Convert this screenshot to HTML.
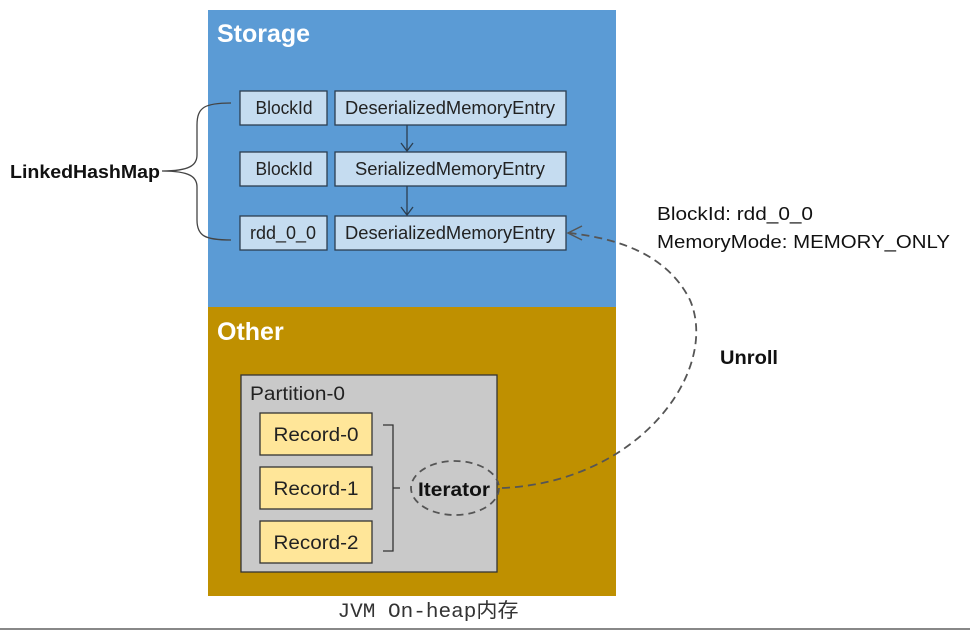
<!DOCTYPE html>
<html><head><meta charset="utf-8"><style>
body{margin:0;background:#fff;width:970px;height:631px;overflow:hidden;font-family:"Liberation Sans","Noto Sans CJK SC",sans-serif}
</style></head><body>
<svg width="970" height="631" xmlns="http://www.w3.org/2000/svg" style="position:absolute;left:0;top:0">
<rect x="208" y="10" width="408" height="297" fill="#5b9bd5"/>
<rect x="208" y="307" width="408" height="289" fill="#bf9000"/>
<text x="217" y="42" font-size="25" font-weight="bold" fill="#fff">Storage</text>
<text x="217" y="340" font-size="25" font-weight="bold" fill="#fff">Other</text>
<g fill="#c5dcf0" stroke="#2c3e50" stroke-width="1.3">
<rect x="240" y="91" width="87" height="34"/><rect x="335" y="91" width="231" height="34"/>
<rect x="240" y="152" width="87" height="34"/><rect x="335" y="152" width="231" height="34"/>
<rect x="240" y="216" width="87" height="34"/><rect x="335" y="216" width="231" height="34"/>
</g>
<g font-size="18" fill="#222" text-anchor="middle">
<text x="284" y="114" textLength="57" lengthAdjust="spacingAndGlyphs">BlockId</text><text x="450" y="114" textLength="210" lengthAdjust="spacingAndGlyphs">DeserializedMemoryEntry</text>
<text x="284" y="175" textLength="57" lengthAdjust="spacingAndGlyphs">BlockId</text><text x="450" y="175" textLength="190" lengthAdjust="spacingAndGlyphs">SerializedMemoryEntry</text>
<text x="283" y="239" textLength="66" lengthAdjust="spacingAndGlyphs">rdd_0_0</text><text x="450" y="239" textLength="210" lengthAdjust="spacingAndGlyphs">DeserializedMemoryEntry</text>
</g>
<g stroke="#2c3e50" stroke-width="1.3" fill="none">
<path d="M407 125V151M401 143L407 151L413 143"/>
<path d="M407 186V215M401 207L407 215L413 207"/>
<path d="M231 103C205 103 197 107 197 125V155C197 165 190 171 162 171C190 171 197 177 197 187V220C197 236 205 240 231 240" stroke="#444"/>
</g>
<text x="10" y="178" font-size="18" font-weight="bold" fill="#111" textLength="150" lengthAdjust="spacingAndGlyphs">LinkedHashMap</text>
<rect x="241" y="375" width="256" height="197" fill="#c9c9c9" stroke="#333" stroke-width="1.3"/>
<text x="250" y="400" font-size="19" fill="#222" textLength="95" lengthAdjust="spacingAndGlyphs">Partition-0</text>
<g fill="#ffe699" stroke="#333" stroke-width="1.3">
<rect x="260" y="413" width="112" height="42"/><rect x="260" y="467" width="112" height="42"/><rect x="260" y="521" width="112" height="42"/>
</g>
<g font-size="19" fill="#222" text-anchor="middle">
<text x="316" y="441" textLength="85" lengthAdjust="spacingAndGlyphs">Record-0</text><text x="316" y="495" textLength="85" lengthAdjust="spacingAndGlyphs">Record-1</text><text x="316" y="549" textLength="85" lengthAdjust="spacingAndGlyphs">Record-2</text>
</g>
<path d="M383 425H393V551H383M393 488H400" stroke="#333" stroke-width="1.3" fill="none"/>
<ellipse cx="455" cy="488" rx="44" ry="27" fill="none" stroke="#555" stroke-width="1.8" stroke-dasharray="7,5"/>
<text x="454" y="496" font-size="19" font-weight="bold" fill="#111" text-anchor="middle" textLength="72" lengthAdjust="spacingAndGlyphs">Iterator</text>
<path d="M502 488C640 482 720 370 690 300C665 250 610 238 570 233" stroke="#555" stroke-width="1.8" fill="none" stroke-dasharray="8,5"/>
<path d="M582 226L568 233L582 240" stroke="#555" stroke-width="1.5" fill="none"/>
<text x="657" y="220" font-size="18" fill="#111" textLength="156" lengthAdjust="spacingAndGlyphs">BlockId:  rdd_0_0</text>
<text x="657" y="248" font-size="18" fill="#111" textLength="293" lengthAdjust="spacingAndGlyphs">MemoryMode:  MEMORY_ONLY</text>
<text x="720" y="364" font-size="19" font-weight="bold" fill="#111" textLength="58" lengthAdjust="spacingAndGlyphs">Unroll</text>
<text x="428" y="617" font-size="20" fill="#333" text-anchor="middle" font-family="Liberation Mono,Noto Sans CJK SC,monospace" textLength="181" lengthAdjust="spacingAndGlyphs">JVM On-heap内存</text>
<line x1="0" y1="629" x2="970" y2="629" stroke="#888" stroke-width="2"/>
</svg>
</body></html>
